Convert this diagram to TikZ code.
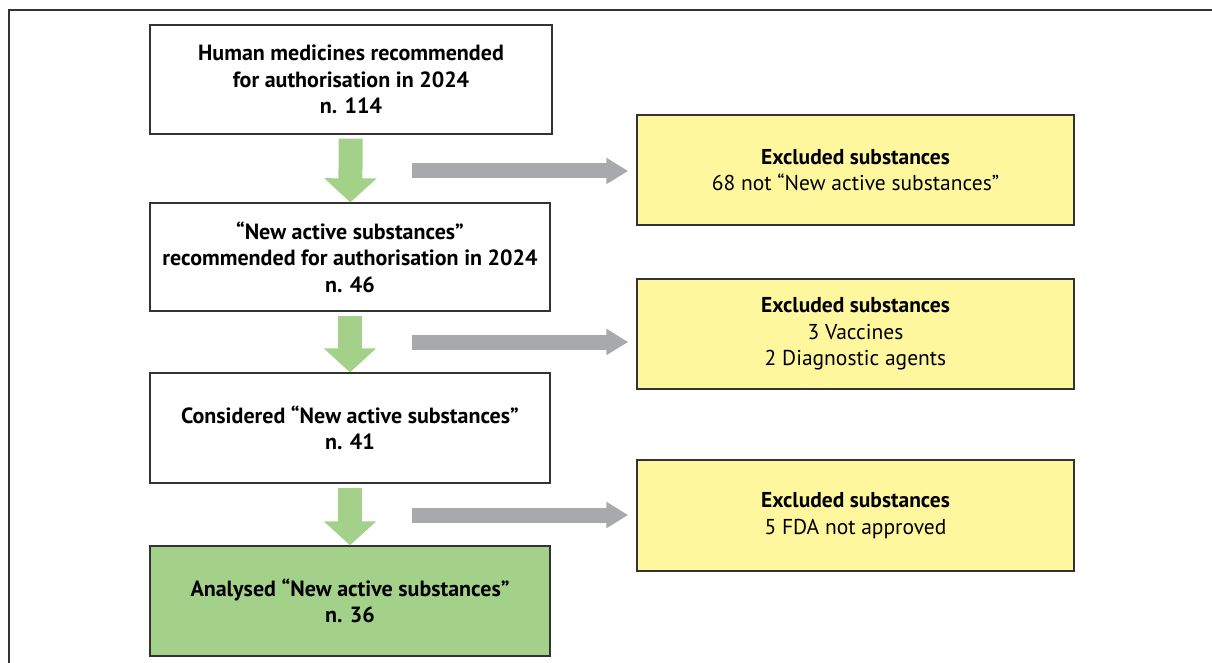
\documentclass[tikz,border=0pt]{standalone}
\usepackage{fontspec}
\setmainfont{PT Sans}
\usepackage{xcolor}
\usetikzlibrary{arrows.meta, positioning}

\definecolor{okgreen}{HTML}{A3D18A}
\definecolor{exyellow}{HTML}{FFF79E}
\definecolor{flowgray}{HTML}{A7A9AC}
\definecolor{edgegray}{HTML}{333333}

\begin{document}
\begin{tikzpicture}[x=1pt, y=-1pt,
        stagebox/.style={rectangle, draw=edgegray, line width=1.3pt, fill=white,
            minimum width=400pt, minimum height=109pt, align=center,
            font=\fontsize{22}{26.5}\selectfont\bfseries},
        exclbox/.style={rectangle, draw=edgegray, line width=1.5pt, fill=exyellow,
            minimum width=437pt, minimum height=110pt, align=center,
            font=\fontsize{21.5}{26.5}\selectfont},
        downarrow/.style={draw=okgreen, line width=24pt,
            -{Triangle[length=24pt, width=51pt]}, shorten <=4pt},
        sidearrow/.style={draw=flowgray, line width=15pt,
            -{Triangle[length=22pt, width=25pt]}, shorten >=8pt}]
        \useasboundingbox (0,0) rectangle (1212,663);

        % frame
        \draw[edgegray, line width=1.3pt] (1214,10) -| (9,665);

        % main flow
        \node (box1) [stagebox, minimum width=402pt] at (351,79.5)
            {Human medicines recommended\\for authorisation in 2024\\n. 114};
        \node (box2) [stagebox, minimum height=108pt] at (350,257)
            {``New active substances''\\recommended for authorisation in 2024\\n. 46};
        \node (box3) [stagebox, minimum height=110pt] at (350,428)
            {Considered ``New active substances''\\n. 41};
        \node (box4) [stagebox, fill=okgreen, minimum height=110pt] at (350,601)
            {Analysed ``New active substances''\\n. 36};

        % exclusions
        \node (excl1) [exclbox] at (855.5,170)
            {\textbf{Excluded substances}\\68 not ``New active substances''};
        \node (excl2) [exclbox] at (855.5,334)
            {\textbf{Excluded substances}\\3 Vaccines\\2 Diagnostic agents};
        \node (excl3) [exclbox, minimum height=111pt] at (855.5,515.5)
            {\textbf{Excluded substances}\\5 FDA not approved};

        \draw[downarrow] (box1) -- (box2);
        \draw[downarrow] (box2) -- (box3);
        \draw[downarrow] (box3) -- (box4);

        \coordinate (g1) at (412,171);
        \coordinate (g2) at (412,342);
        \coordinate (g3) at (412,515);
        \draw[sidearrow] (g1) -- (g1 -| excl1.west);
        \draw[sidearrow] (g2) -- (g2 -| excl2.west);
        \draw[sidearrow] (g3) -- (g3 -| excl3.west);
    \end{tikzpicture}
\end{document}
